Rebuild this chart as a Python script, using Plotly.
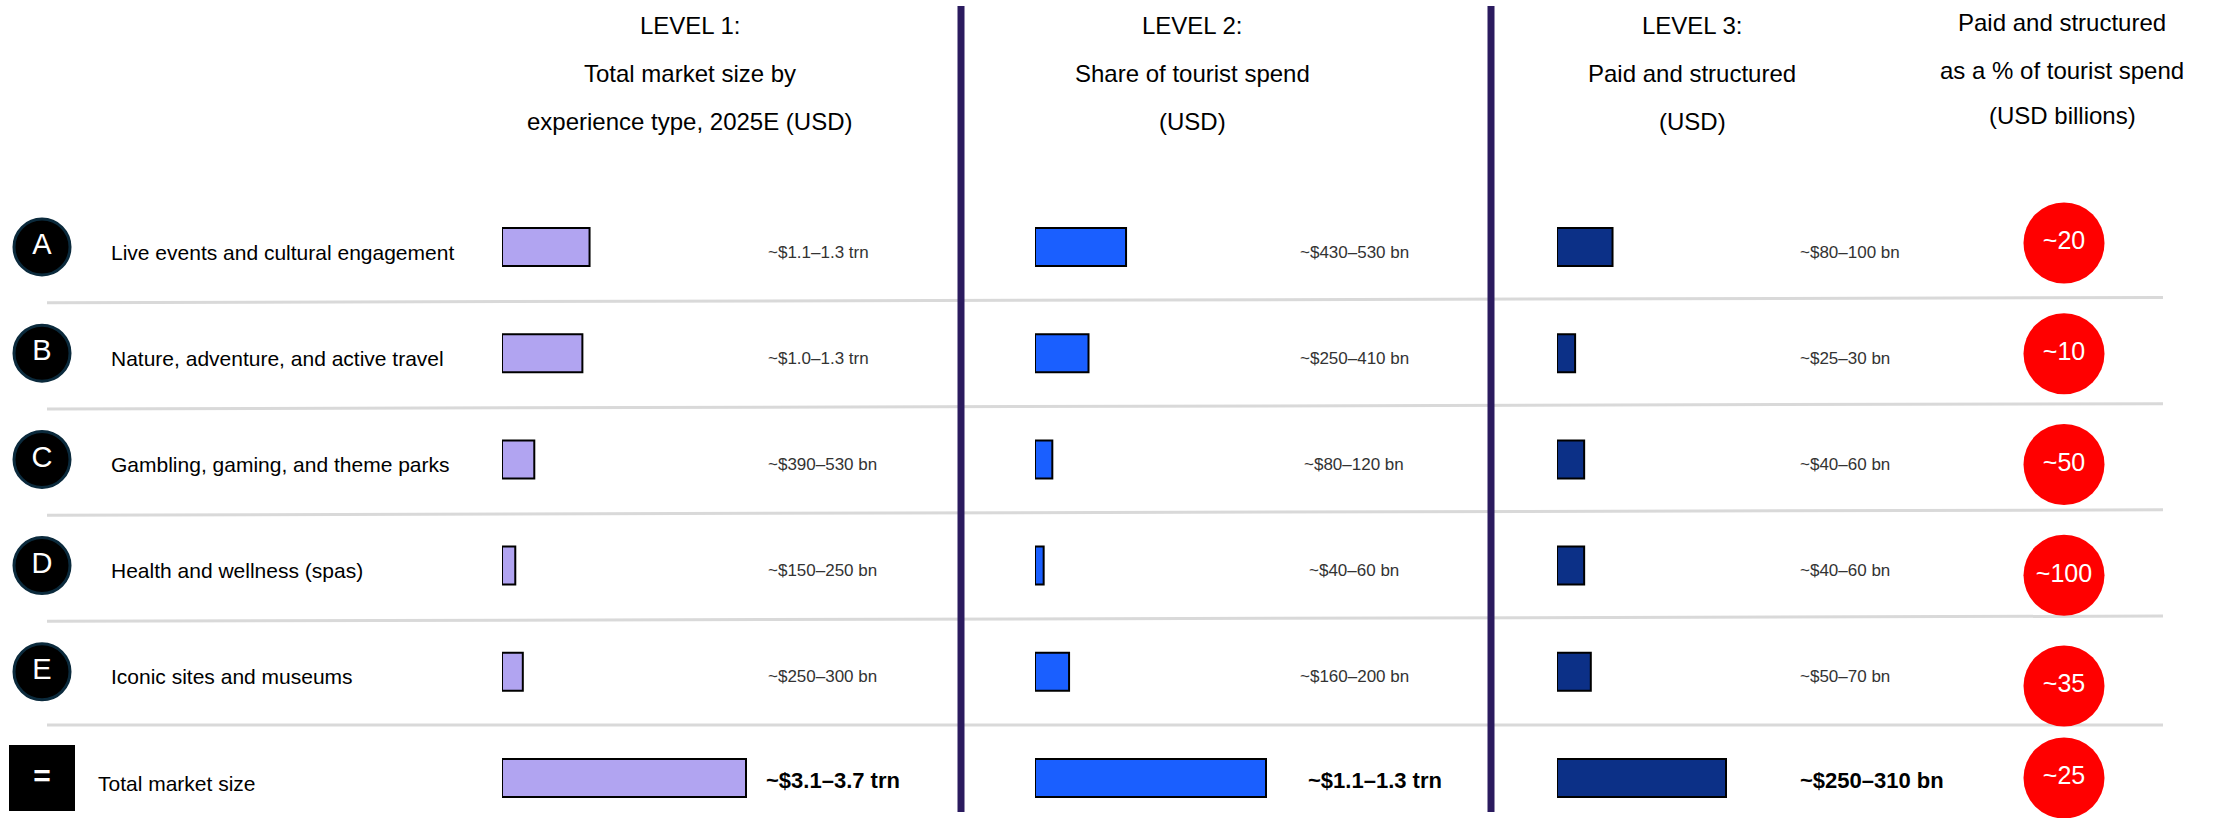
import plotly.graph_objects as go

# ---------------- data ----------------
codes = ["A", "B", "C", "D", "E", "="]
experiences = [
    "Live events and cultural engagement",
    "Nature, adventure, and active travel",
    "Gambling, gaming, and theme parks",
    "Health and wellness (spas)",
    "Iconic sites and museums",
    "Total market size",
]
# bar lengths (USD bn)
level1_bn = [1220, 1120, 450, 185, 290, 3400]
level2_bn = [473, 278, 90, 45, 177, 1200]
level3_bn = [92, 30, 45, 45, 56, 280]

level1_labels = ["~$1.1–1.3 trn", "~$1.0–1.3 trn", "~$390–530 bn", "~$150–250 bn", "~$250–300 bn", "~$3.1–3.7 trn"]
level2_labels = ["~$430–530 bn", "~$250–410 bn", "~$80–120 bn", "~$40–60 bn", "~$160–200 bn", "~$1.1–1.3 trn"]
level3_labels = ["~$80–100 bn", "~$25–30 bn", "~$40–60 bn", "~$40–60 bn", "~$50–70 bn", "~$250–310 bn"]
paid_share_pct = ["~20", "~10", "~50", "~100", "~35", "~25"]

header_l1 = ["LEVEL 1:", "Total market size by", "experience type, 2025E (USD)"]
header_l2 = ["LEVEL 2:", "Share of tourist spend", "(USD)"]
header_l3 = ["LEVEL 3:", "Paid and structured", "(USD)"]
header_l4 = ["Paid and structured", "as a % of tourist spend", "(USD billions)"]

# ---------------- layout constants ----------------
W, H = 2220, 818
FONT = "Liberation Sans, Arial, Helvetica, sans-serif"
rows = list(range(len(codes)))
n = len(rows)

ROW0, ROWSTEP = 247.0, 106.2          # px of first row centre, px per row
y_top = -ROW0 / ROWSTEP
y_bot = (H - ROW0) / ROWSTEP

BUB0, BUBSTEP = 243.0, 110.75          # bubble column spacing for rows A-E

def px(x):
    return x / W

def py(y):
    return 1 - y / H

C_L1, C_L2, C_L3 = "#B1A4F1", "#1A5FFF", "#0C3087"
RED = "#FF0000"

fig = go.Figure()

bar_w = 38 / ROWSTEP
for vals, col, xa in [(level1_bn, C_L1, "x"), (level2_bn, C_L2, "x2"), (level3_bn, C_L3, "x3")]:
    fig.add_trace(go.Bar(
        x=vals, y=rows, orientation="h", width=bar_w,
        marker=dict(color=col, line=dict(color="#000000", width=2)),
        xaxis=xa, yaxis="y", showlegend=False, hoverinfo="skip",
    ))

# letter badges
fig.add_trace(go.Scatter(
    x=[0] * (n - 1), y=rows[:-1], mode="markers+text", text=codes[:-1],
    textposition="middle center",
    textfont=dict(family=FONT, size=29, color="#FFFFFF"),
    marker=dict(size=56, color="#000000", line=dict(color="#0B2A3C", width=3)),
    xaxis="x4", yaxis="y", showlegend=False, hoverinfo="skip", cliponaxis=False,
))
fig.add_trace(go.Scatter(
    x=[0], y=rows[-1:], mode="markers+text", text=[f"<b>{c}</b>" for c in codes[-1:]],
    textposition="middle center",
    textfont=dict(family=FONT, size=30, color="#FFFFFF"),
    marker=dict(size=66, symbol="square", color="#000000"),
    xaxis="x4", yaxis="y", showlegend=False, hoverinfo="skip", cliponaxis=False,
))

# red share bubbles (rows A-E on their own slightly wider spacing, total on the row grid)
bubble_font = dict(family=FONT, size=25, color="#FFFFFF")
fig.add_trace(go.Scatter(
    x=[0] * (n - 1), y=rows[:-1], mode="markers+text", text=paid_share_pct[:-1],
    textposition="middle center", textfont=bubble_font,
    marker=dict(size=81, color=RED),
    xaxis="x5", yaxis="y2", showlegend=False, hoverinfo="skip", cliponaxis=False,
))
fig.add_trace(go.Scatter(
    x=[0], y=rows[-1:], mode="markers+text", text=paid_share_pct[-1:],
    textposition="middle center", textfont=bubble_font,
    marker=dict(size=81, color=RED),
    xaxis="x6", yaxis="y", showlegend=False, hoverinfo="skip", cliponaxis=False,
))

annotations = []

# headers
def header(lines, cx, ys):
    for t, yy in zip(lines, ys):
        annotations.append(dict(
            text=t, x=px(cx), y=py(yy), xref="paper", yref="paper",
            xanchor="center", yanchor="middle", showarrow=False,
            font=dict(family=FONT, size=24, color="#000000"),
        ))

header(header_l1, 690, [26, 73, 122])
header(header_l2, 1192, [26, 73, 122])
header(header_l3, 1692, [26, 73, 122])
header(header_l4, 2062, [23, 70, 116])

# row labels
for i, t in enumerate(experiences):
    annotations.append(dict(
        text=t, x=px(109 if i < n - 1 else 96), y=i, xref="paper", yref="y",
        xanchor="left", yanchor="middle", yshift=-5, showarrow=False,
        font=dict(family=FONT, size=21, color="#000000"),
    ))

# value labels
for labels, xr, anchor_r, xt in [
    (level1_labels, 766, "left", 764),
    (level2_labels, 1354, "center", 1306),
    (level3_labels, 1798, "left", 1798),
]:
    for i, t in enumerate(labels):
        total = i == n - 1
        annotations.append(dict(
            text=f"<b>{t}</b>" if total else t,
            x=px(xt if total else xr), y=i, xref="paper", yref="y",
            xanchor="left" if total else anchor_r, yanchor="middle",
            yshift=-2 if total else -5, showarrow=False,
            font=dict(family=FONT, size=22 if total else 17,
                      color="#000000" if total else "#333333"),
        ))

shapes = []
# row separators (slightly sloped as in the source)
for i in range(n - 1):
    slope = 0.05 if i < n - 2 else 0.0
    shapes.append(dict(
        type="line", xref="paper", yref="y",
        x0=px(47), x1=px(2163), y0=i + 0.5 + slope / 2, y1=i + 0.5 - slope / 2,
        line=dict(color="#D9D9D9", width=3), layer="below",
    ))
# column dividers
for xx in (961, 1491):
    shapes.append(dict(
        type="line", xref="paper", yref="paper",
        x0=px(xx), x1=px(xx), y0=py(6), y1=py(812),
        line=dict(color="#2B1B5F", width=7),
    ))

ax_off = dict(visible=False, showgrid=False, zeroline=False, fixedrange=True)

s1 = 244 / level1_bn[-1]
s2 = 231 / level2_bn[-1]
s3 = 169 / level3_bn[-1]

fig.update_layout(
    width=W, height=H,
    margin=dict(l=0, r=0, t=0, b=0),
    paper_bgcolor="#FFFFFF", plot_bgcolor="rgba(0,0,0,0)",
    barmode="overlay",
    xaxis=dict(domain=[px(502), px(952)], range=[0, 450 / s1], anchor="y", **ax_off),
    xaxis2=dict(domain=[px(1035), px(1285)], range=[0, 250 / s2], anchor="y", **ax_off),
    xaxis3=dict(domain=[px(1557), px(1757)], range=[0, 200 / s3], anchor="y", **ax_off),
    xaxis4=dict(domain=[0, px(84)], range=[-1, 1], anchor="y", **ax_off),
    xaxis5=dict(domain=[px(2014), px(2114)], range=[-1, 1], anchor="y2", **ax_off),
    xaxis6=dict(domain=[px(2014), px(2114)], range=[-1, 1], anchor="y", **ax_off),
    yaxis=dict(domain=[0, 1], range=[y_bot, y_top], **ax_off),
    yaxis2=dict(domain=[0, 1], range=[(H - BUB0) / BUBSTEP, -BUB0 / BUBSTEP], overlaying="y", **ax_off),
    annotations=annotations,
    shapes=shapes,
)

fig.write_html(
    "out.html",
    config={"displayModeBar": False},
    post_script="document.body.style.margin='0';document.body.style.overflow='hidden';",
)
